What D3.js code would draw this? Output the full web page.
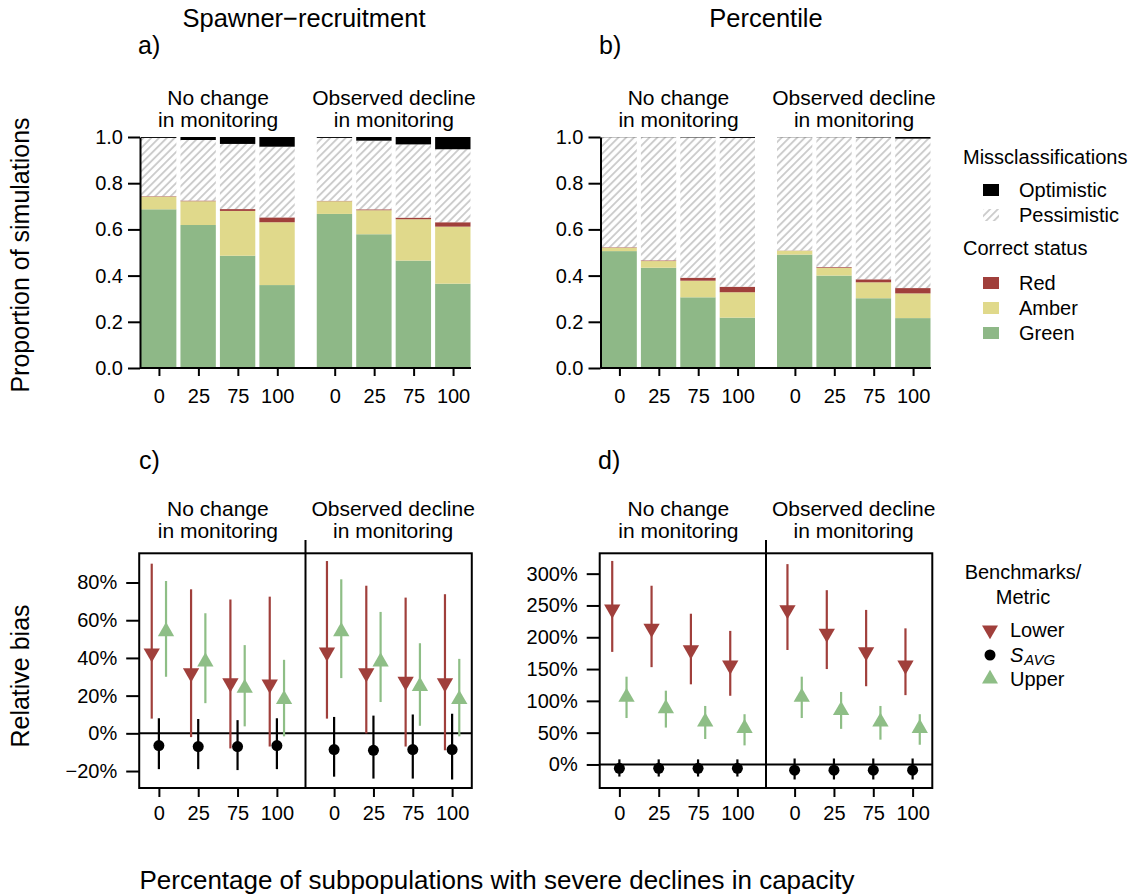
<!DOCTYPE html>
<html>
<head>
<meta charset="utf-8">
<script src="https://d3js.org/d3.v7.min.js"></script>
<style>
  body { margin: 0; background: #fff; }
  svg { font-family: "Liberation Sans", Arial, Helvetica, sans-serif; }
  .axis text { font-size: 20px; fill: #000; }
  .axis line, .axis path { stroke: #000; stroke-width: 2; }
</style>
</head>
<body>
<svg id="chart" width="1136" height="895"></svg>
<script>
// categories
const capacityLabels = ["0", "25", "75", "100"];
const monitoringLabels = [["No change", "in monitoring"], ["Observed decline", "in monitoring"]];

// a) spawner-recruitment, proportion of simulations (8 bars: 4 levels x 2 scenarios)
const srGreen = [0.687, 0.619, 0.486, 0.359, 0.667, 0.579, 0.465, 0.365];
const srAmber = [0.055, 0.103, 0.194, 0.272, 0.055, 0.104, 0.179, 0.247];
const srRed   = [0.002, 0.003, 0.008, 0.021, 0.002, 0.004, 0.007, 0.019];
const srOpt   = [0.004, 0.013, 0.030, 0.042, 0.004, 0.016, 0.032, 0.053];

// b) percentile
const pcGreen = [0.506, 0.434, 0.306, 0.218, 0.491, 0.400, 0.302, 0.216];
const pcAmber = [0.015, 0.029, 0.072, 0.110, 0.017, 0.034, 0.069, 0.107];
const pcRed   = [0.002, 0.003, 0.013, 0.024, 0.001, 0.003, 0.013, 0.023];
const pcOpt   = [0.001, 0.001, 0.002, 0.004, 0.001, 0.001, 0.002, 0.007];

// c) spawner-recruitment relative bias (%)
const srLowerMid = [42.5, 32, 26.7, 26, 43, 32, 27.5, 26.7];
const srLowerLo  = [7.8, -2, -8, -7, 7.8, 0, -7, -9];
const srLowerHi  = [90, 76.4, 71, 72.5, 91.4, 78.3, 72, 73.8];
const srSavgMid  = [-6.5, -7, -7, -6.5, -8.6, -9, -8.6, -8.6];
const srSavgLo   = [-19, -19, -19.5, -19, -23, -24, -24, -24.5];
const srSavgHi   = [8, 7.6, 7, 8, 8.7, 9.4, 10, 10.4];
const srUpperMid = [54, 38, 24, 18, 54, 38, 25, 18];
const srUpperLo  = [30, 16, 3.7, -1.6, 29.3, 16.6, 4, -1.6];
const srUpperHi  = [80.8, 63.7, 46.8, 39, 81.7, 64.4, 47.8, 39.5];

// d) percentile relative bias (%)
const pcLowerMid = [244, 214, 180, 156, 243, 206, 177, 156];
const pcLowerLo  = [177, 153, 126, 108, 180, 150, 123, 109];
const pcLowerHi  = [320, 281, 237, 210, 315, 274, 243, 214];
const pcSavgMid  = [-6, -6, -6, -6, -9, -9, -9, -9];
const pcSavgLo   = [-19, -19, -19, -19, -23.6, -23.6, -23.6, -23.6];
const pcSavgHi   = [8, 8, 8, 8, 9.4, 9.4, 9.4, 9.4];
const pcUpperMid = [106, 88, 67, 57, 106, 85, 67, 57];
const pcUpperLo  = [73, 58, 40, 30, 73, 56, 39, 31];
const pcUpperHi  = [138, 116, 92, 79, 138, 114, 92, 79];

const biasTicksSR = [-20, 0, 20, 40, 60, 80];
const biasTicksPC = [0, 50, 100, 150, 200, 250, 300];

const col = { green: "#8EB887", amber: "#E0D98B", red: "#A03F3B", opt: "#000", lower: "#A03F3B", upper: "#8EBE86" };

// bar slots in units (bar width 1, gap 0.1, extra 0.5 between scenarios)
const slots = d3.range(8).map(i => (i % 4) * 1.1 + Math.floor(i / 4) * 4.9);

const svg = d3.select("#chart");
svg.append("rect").attr("width", 1136).attr("height", 895).attr("fill", "#fff");

const defs = svg.append("defs");
const pat = defs.append("pattern").attr("id", "hatch")
  .attr("patternUnits", "userSpaceOnUse").attr("width", 5.5).attr("height", 5.5)
  .attr("patternTransform", "rotate(45)");
pat.append("rect").attr("width", 5.5).attr("height", 5.5).attr("fill", "#fff");
pat.append("line").attr("x1", 1).attr("y1", 0).attr("x2", 1).attr("y2", 5.5)
  .attr("stroke", "#C9C9C9").attr("stroke-width", 1.8);

function txt(x, y, s, size, anchor) {
  return svg.append("text").attr("x", x).attr("y", y).attr("font-size", size)
    .attr("text-anchor", anchor || "start").attr("dominant-baseline", "central").text(s);
}

function headers(x, yTop) {
  monitoringLabels.forEach((lines, g) => {
    const cx = (x(slots[g * 4] + 0.5) + x(slots[g * 4 + 3] + 0.5)) / 2;
    lines.forEach((l, k) => txt(cx, yTop + k * 22, l, 21, "middle"));
  });
}

function barPanel(xr, green, amber, red, opt) {
  const x = d3.scaleLinear([0, 9.2], xr);
  const y = d3.scaleLinear([0, 1], [368, 137]);
  const g = svg.append("g");
  green.forEach((v, i) => {
    const pess = 1 - green[i] - amber[i] - red[i] - opt[i];
    const segs = [[green[i], col.green], [amber[i], col.amber], [red[i], col.red], [pess, "url(#hatch)"], [opt[i], col.opt]];
    let base = 0;
    segs.forEach(([h, f]) => {
      g.append("rect").attr("x", x(slots[i])).attr("width", x(1) - x(0) - 0.5)
        .attr("y", y(base + h)).attr("height", y(base) - y(base + h)).attr("fill", f);
      base += h;
    });
  });
  svg.append("g").attr("class", "axis").attr("transform", `translate(${xr[0] - 1},0)`)
    .call(d3.axisLeft(y).tickValues([0, 0.2, 0.4, 0.6, 0.8, 1]).tickFormat(d3.format(".1f"))
      .tickSize(12).tickSizeOuter(0).tickPadding(5));
  const centers = slots.map(s => s + 0.5);
  const xa = svg.append("g").attr("class", "axis").attr("transform", "translate(0,368)")
    .call(d3.axisBottom(x).tickValues(centers).tickFormat((d, i) => capacityLabels[i % 4])
      .tickSize(8).tickPadding(13));
  xa.select(".domain").attr("d", `M${xr[0] - 1},0H${xr[1]}`);
  headers(x, 97);
}

function errPanel(xr, ydom, ticks, L, S, U) {
  const x = d3.scaleLinear([0, 9.2], xr);
  const y = d3.scaleLinear(ydom, [788, 553.3]);
  const left = x(-0.05), right = x(9.25);
  const g = svg.append("g");
  g.append("line").attr("x1", left).attr("x2", right).attr("y1", y(0)).attr("y2", y(0))
    .attr("stroke", "#000").attr("stroke-width", 2);
  const series = [[L, -0.2, col.lower, "down"], [S, 0, "#000", "circle"], [U, 0.2, col.upper, "up"]];
  series.forEach(([d, off, c]) => {
    d[0].forEach((m, i) => {
      const cx = x(slots[i] + 0.5 + off);
      g.append("line").attr("x1", cx).attr("x2", cx).attr("y1", y(d[1][i])).attr("y2", y(d[2][i]))
        .attr("stroke", c).attr("stroke-width", 2.2);
    });
  });
  series.forEach(([d, off, c, shape]) => {
    d[0].forEach((m, i) => {
      const cx = x(slots[i] + 0.5 + off);
      if (shape === "circle") {
        g.append("circle").attr("cx", cx).attr("cy", y(m)).attr("r", 5.5).attr("fill", c);
      } else {
        g.append("path").attr("d", d3.symbol(d3.symbolTriangle, 115)())
          .attr("transform", `translate(${cx},${y(m)})` + (shape === "down" ? " rotate(180)" : ""))
          .attr("fill", c);
      }
    });
  });
  g.append("rect").attr("x", left).attr("y", 553.3).attr("width", right - left).attr("height", 788 - 553.3)
    .attr("fill", "none").attr("stroke", "#000").attr("stroke-width", 2);
  g.append("line").attr("x1", x(4.6)).attr("x2", x(4.6)).attr("y1", 540).attr("y2", 788)
    .attr("stroke", "#000").attr("stroke-width", 2);
  const ya = svg.append("g").attr("class", "axis").attr("transform", `translate(${left},0)`)
    .call(d3.axisLeft(y).tickValues(ticks).tickFormat(v => (v < 0 ? "\u2212" : "") + Math.abs(v) + "%")
      .tickSize(13).tickSizeOuter(0).tickPadding(9));
  ya.select(".domain").remove();
  const xa = svg.append("g").attr("class", "axis").attr("transform", "translate(0,788)")
    .call(d3.axisBottom(x).tickValues(slots.map(s => s + 0.5)).tickFormat((d, i) => capacityLabels[i % 4])
      .tickSize(9).tickPadding(9));
  xa.select(".domain").remove();
  xa.selectAll("text").attr("font-size", 19);
  headers(x, 508);
}

barPanel([141, 471], srGreen, srAmber, srRed, srOpt);
barPanel([601.5, 931], pcGreen, pcAmber, pcRed, pcOpt);
errPanel([141, 470], [-29, 95.5], biasTicksSR,
  [srLowerMid, srLowerLo, srLowerHi], [srSavgMid, srSavgLo, srSavgHi], [srUpperMid, srUpperLo, srUpperHi]);
errPanel([601.5, 930.5], [-37, 332], biasTicksPC,
  [pcLowerMid, pcLowerLo, pcLowerHi], [pcSavgMid, pcSavgLo, pcSavgHi], [pcUpperMid, pcUpperLo, pcUpperHi]);

// titles and labels
txt(304, 18, "Spawner\u2212recruitment", 25.5, "middle");
txt(766, 18, "Percentile", 25.5, "middle");
txt(138, 45, "a)", 25);
txt(599, 45, "b)", 25);
txt(139, 460, "c)", 25);
txt(598, 460, "d)", 25);
txt(0, 0, "Proportion of simulations", 25, "middle").attr("transform", "translate(20,255) rotate(-90)");
txt(0, 0, "Relative bias", 25, "middle").attr("transform", "translate(20,676) rotate(-90)");
txt(497, 880, "Percentage of subpopulations with severe declines in capacity", 25, "middle")
  .attr("textLength", 715).attr("lengthAdjust", "spacingAndGlyphs");

// legend a/b
txt(963, 157, "Missclassifications", 20);
txt(963, 248, "Correct status", 20);
const leg1 = [["Optimistic", col.opt, 190], ["Pessimistic", "url(#hatch)", 215],
              ["Red", col.red, 283], ["Amber", col.amber, 308], ["Green", col.green, 333]];
leg1.forEach(([name, f, yy]) => {
  svg.append("rect").attr("x", 983).attr("y", yy - 6).attr("width", 16).attr("height", 12).attr("fill", f);
  txt(1019, yy, name, 20);
});

// legend c/d
txt(1023, 572, "Benchmarks/", 20, "middle");
txt(1023, 597, "Metric", 20, "middle");
svg.append("path").attr("d", d3.symbol(d3.symbolTriangle, 110)())
  .attr("transform", "translate(990,630) rotate(180)").attr("fill", col.lower);
svg.append("circle").attr("cx", 990).attr("cy", 655).attr("r", 5.5).attr("fill", "#000");
svg.append("path").attr("d", d3.symbol(d3.symbolTriangle, 110)())
  .attr("transform", "translate(990,679)").attr("fill", col.upper);
txt(1010, 630, "Lower", 20);
const sav = txt(1010, 655, "", 20).attr("font-style", "italic");
sav.append("tspan").text("S");
sav.append("tspan").attr("font-size", 15).attr("dy", 4).attr("dx", 1).text("AVG");
txt(1010, 679, "Upper", 20);
</script>
</body>
</html>
